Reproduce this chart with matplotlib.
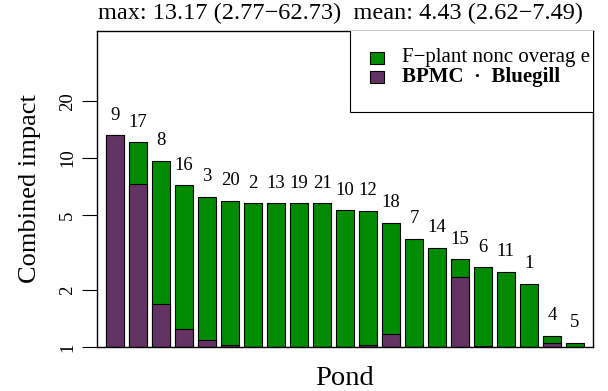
import numpy as np
import matplotlib.pyplot as plt
from matplotlib.patches import Rectangle

plt.rcParams['font.family'] = ['Liberation Serif', 'DejaVu Serif']

ponds = ["9", "17", "8", "16", "3", "20", "2", "13", "19", "21", "10",
         "12", "18", "7", "14", "15", "6", "11", "1", "4", "5"]
total = [13.17, 12.1, 9.64, 7.17, 6.24, 5.92, 5.76, 5.76, 5.76, 5.76, 5.29,
         5.24, 4.55, 3.73, 3.35, 2.91, 2.64, 2.49, 2.15, 1.14, 1.05]
bluegill = [13.17, 7.26, 1.68, 1.25, 1.09, 1.03, 1.0, 1.0, 1.0, 1.0, 1.0,
            1.03, 1.17, 1.0, 1.0, 2.35, 1.01, 1.0, 1.0, 1.05, 1.0]
y_ticks = [1, 2, 5, 10, 20]

title = "max: 13.17 (2.77\u221262.73)  mean: 4.43 (2.62\u22127.49)"
legend_labels = ["F\u2212plant nonc overag e", "BPMC  \u00b7  Bluegill"]

green = "#008B00"
purple = "#633363"

fig = plt.figure(figsize=(6.08, 3.91), dpi=100)
ax = fig.add_axes([97 / 608, 1 - 347 / 391, 496 / 608, 316 / 391])

x = np.arange(len(ponds))
total = np.array(total)
bluegill = np.array(bluegill)

# bars start at 1 on the log axis; purple part drawn over the green total
ax.bar(x, total - 1, width=0.8, bottom=1, color=green, edgecolor="black",
       linewidth=0.8)
ax.bar(x, bluegill - 1, width=0.8, bottom=1, color=purple, edgecolor="black",
       linewidth=0.8)

for xi, t, lab in zip(x, total, ponds):
    ax.text(xi, t * 1.28, lab, ha="center", va="center", fontsize=13.5)

ax.set_yscale("log")
ax.set_ylim(1, 47)
ax.set_xlim(-0.79, 20.79)
ax.set_yticks(y_ticks)
ax.set_yticklabels([str(v) for v in y_ticks], rotation=90, va="center",
                   fontsize=13.5)
ax.minorticks_off()
ax.tick_params(axis="y", length=11, width=0.8, pad=4)
ax.set_xticks([])
for s in ax.spines.values():
    s.set_linewidth(1.0)

ax.set_ylabel("Combined impact", fontsize=19, labelpad=13)
ax.set_xlabel("Pond", fontsize=20.5, labelpad=14)
fig.text(340 / 608, 1 - 13 / 391, title, ha="center", va="center",
         fontsize=17.5)

# legend box drawn by hand so the long label is clipped at the plot edge
ax.add_patch(Rectangle((0.51, 0.744), 0.6, 0.3, transform=ax.transAxes,
                       facecolor="white", edgecolor="black", linewidth=0.8,
                       zorder=5))
for i, (lab, col) in enumerate(zip(legend_labels, [green, purple])):
    yc = 0.916 - i * 0.063
    ax.add_patch(Rectangle((0.551, yc - 0.019), 0.028, 0.038,
                           transform=ax.transAxes, facecolor=col,
                           edgecolor="black", linewidth=0.8, zorder=6))
    ax.text(0.614, yc, lab, transform=ax.transAxes, va="center", ha="left",
            fontsize=15, fontweight="bold" if i == 1 else "normal",
            zorder=7, clip_on=True)

fig.savefig("out.png", dpi=100)
